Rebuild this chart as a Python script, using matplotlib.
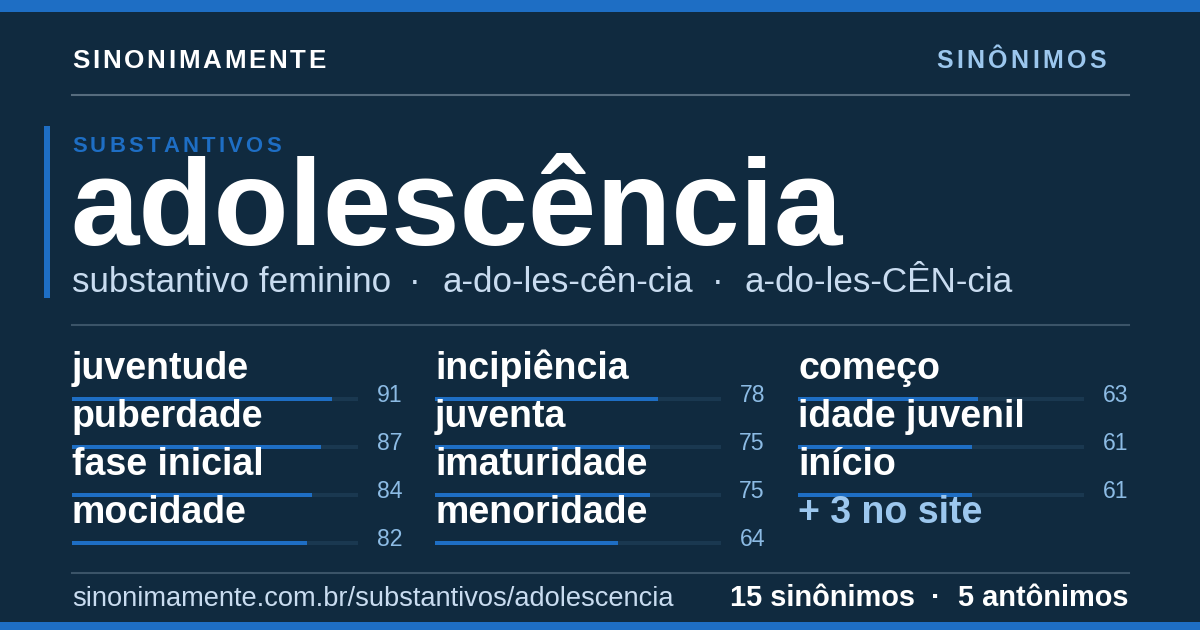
import numpy as np
import matplotlib
matplotlib.use("Agg")
import matplotlib.pyplot as plt
from matplotlib import font_manager, ft2font
from matplotlib.patches import Rectangle

# card content
marca = "SINONIMAMENTE"
secao = "SINÔNIMOS"
categoria = "SUBSTANTIVOS"
palavra = "adolescência"
classe = "substantivo feminino"
silabas = "a-do-les-cên-cia"
tonica = "a-do-les-CÊN-cia"
url = "sinonimamente.com.br/substantivos/adolescencia"

sinonimos = [
    ["juventude", "puberdade", "fase inicial", "mocidade"],
    ["incipiência", "juventa", "imaturidade", "menoridade"],
    ["começo", "idade juvenil", "início"],
]
relevancia = [
    [91, 87, 84, 82],
    [78, 75, 75, 64],
    [63, 61, 61],
]
extra = "+ 3 no site"
total_sinonimos = 15
total_antonimos = 5

# colours
BG = "#102a3f"
BLUE = "#1e6ec4"
TRACK = "#1a3850"
WHITE = "#ffffff"
PALE = "#c9dcf0"
LIGHTBLUE = "#9cc7ee"
NUMC = "#8cbbe4"
RULE = "#566c7e"
RULE2 = "#3b5468"

W, H = 1200, 630
FONT = "Liberation Sans"
plt.rcParams["font.family"] = [FONT, "DejaVu Sans"]


def pt(px):
    # css pixels -> points at dpi 100
    return px * 0.72


def advances(s, size_px, weight):
    path = font_manager.findfont(font_manager.FontProperties(family=FONT, weight=weight))
    f = ft2font.FT2Font(path)
    f.set_size(size_px, 72)
    return [f.load_char(ord(ch)).linearHoriAdvance / 65536 for ch in s]


def spaced(ax, x, y, s, size, spacing, color, weight="bold", align="left"):
    adv = advances(s, size, weight)
    total = sum(adv) + spacing * (len(s) - 1)
    if align == "right":
        x = x - total
    for ch, a in zip(s, adv):
        ax.text(x, y, ch, fontsize=pt(size), color=color, fontweight=weight,
                va="baseline", ha="left")
        x += a + spacing


fig = plt.figure(figsize=(12, 6.3), dpi=100)
fig.patch.set_facecolor(BG)

ax0 = fig.add_axes([0, 0, 1, 1])
ax0.set_xlim(0, W)
ax0.set_ylim(H, 0)
ax0.axis("off")

# frame bits
ax0.add_patch(Rectangle((0, 0), W, 12, color=BLUE, lw=0))
ax0.add_patch(Rectangle((0, 622), W, 8, color=BLUE, lw=0))
ax0.add_patch(Rectangle((44, 126), 6, 172, color=BLUE, lw=0))
ax0.plot([72, 1129], [95, 95], color=RULE, lw=1.5)
ax0.plot([72, 1129], [325, 325], color=RULE2, lw=1.5)
ax0.plot([72, 1129], [573, 573], color=RULE2, lw=1.5)

# header
spaced(ax0, 72, 68, marca, 26, 2.75, WHITE)
spaced(ax0, 1106, 68, secao, 25, 3.3, LIGHTBLUE, align="right")

# headword block
spaced(ax0, 72, 152, categoria, 22, 3.3, BLUE)
ax0.text(70, 245, palavra, fontsize=pt(123), color=WHITE, fontweight="bold",
         va="baseline")
sub_kw = dict(fontsize=pt(35), color=PALE, va="baseline")
ax0.text(72, 292, classe, **sub_kw)
ax0.text(415, 292, "·", ha="center", **sub_kw)
ax0.text(442, 292, silabas, **sub_kw)
ax0.text(718, 292, "·", ha="center", **sub_kw)
ax0.text(745, 292, tonica, **sub_kw)

# synonym columns with relevance bars
col_left = [72, 435, 798]
track_w = 286
num_right = 330  # px right of the track start
for c in range(3):
    ax = fig.add_axes([col_left[c] / W, 1 - 567 / H, track_w / W, 192 / H])
    ax.set_xlim(0, 100)
    ax.set_ylim(4, 0)
    ax.axis("off")
    vals = relevancia[c]
    rows = np.arange(len(vals)) + 0.5
    ax.barh(rows, [100] * len(vals), height=4 / 48, color=TRACK, lw=0)
    ax.barh(rows, vals, height=4 / 48, color=BLUE, lw=0)
    for r, word, v in zip(rows, sinonimos[c], vals):
        ax.text(0, r - 20 / 48, word, fontsize=pt(37.5), color=WHITE,
                fontweight="bold", va="baseline", clip_on=False)
        ax.text(100 * num_right / track_w, r + 3 / 48, str(v), fontsize=pt(23),
                color=NUMC, ha="right", va="baseline", clip_on=False)
    if len(vals) < 4:
        r = len(vals) + 0.5
        ax.text(0, r - 20 / 48, extra, fontsize=pt(37.5), color=LIGHTBLUE,
                fontweight="bold", va="baseline", clip_on=False)

# footer
ax0.text(72, 606, url, fontsize=pt(27.2), color=PALE, va="baseline")
foot_kw = dict(fontsize=pt(29), color=WHITE, fontweight="bold", va="baseline")
ax0.text(1129, 606, f"{total_antonimos} antônimos", ha="right", **foot_kw)
ax0.text(936, 606, "·", ha="center", **foot_kw)
ax0.text(730, 606, f"{total_sinonimos} sinônimos", ha="left", **foot_kw)

fig.savefig("out.png", dpi=100, facecolor=BG)
